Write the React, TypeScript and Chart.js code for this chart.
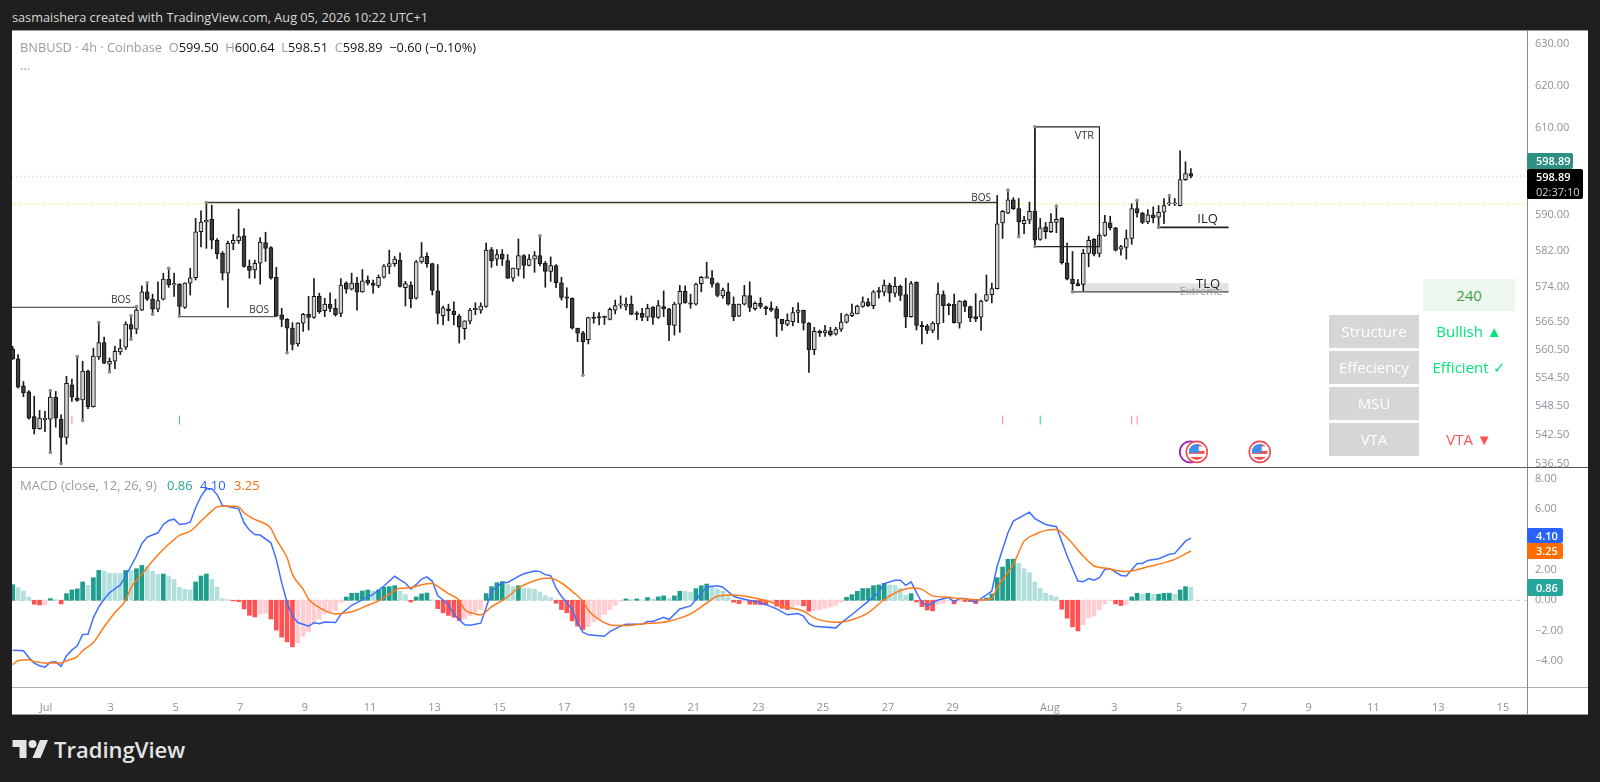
import React, { useEffect, useRef } from "react";
import { Chart, registerables } from "chart.js";

Chart.register(...registerables);

const opens = [
560.6,558.5,552.8,551.5,546.3,543.8,545.7,545.8,550.4,545.8,
542.0,553.0,550.2,549.8,555.9,548.4,558.9,562.0,557.4,558.0,
560.0,561.0,565.9,564.9,569.0,573.0,571.4,569.2,571.4,575.8,
574.5,574.7,569.6,574.9,576.1,586.3,588.5,589.1,584.4,581.5,
577.1,583.7,584.3,585.4,578.6,577.8,579.3,583.9,582.8,576.2,
568.0,567.0,565.1,561.7,566.2,568.1,567.4,572.0,568.9,570.3,
569.4,568.3,574.9,573.6,574.9,573.0,575.6,574.9,574.3,576.2,
578.6,579.2,580.0,573.9,574.5,571.6,579.6,580.8,579.2,573.2,
567.8,569.3,568.8,567.7,565.0,566.6,569.1,569.0,569.8,582.3,
580.2,581.3,579.9,576.0,578.0,581.0,578.8,580.2,581.0,579.3,
577.5,578.8,575.0,571.9,571.6,565.1,564.1,562.6,567.5,567.6,
567.7,567.0,569.0,570.1,569.8,570.3,568.4,568.3,567.5,569.6,
567.4,569.8,569.3,565.7,570.3,573.1,570.6,570.3,574.8,576.0,
576.0,574.8,572.1,573.0,570.3,567.7,570.3,572.2,569.3,570.5,
569.7,569.5,569.3,567.0,565.9,566.5,568.5,569.0,566.2,560.5,
564.4,564.1,564.5,563.8,564.9,566.4,567.8,568.2,569.8,570.8,
570.0,573.3,572.9,574.5,572.7,574.2,572.4,567.6,575.1,565.7,
565.6,564.6,566.0,572.4,570.3,570.3,566.2,571.0,569.8,567.6,
567.5,571.1,572.4,573.7,588.3,590.5,593.5,591.5,588.1,588.9,
590.9,584.6,587.4,586.3,588.4,589.4,579.4,575.8,574.8,574.6,
581.5,584.6,581.5,585.5,588.3,587.2,582.4,582.8,584.8,591.5,
590.5,588.5,590.1,589.6,590.7,592.6,592.6,592.2,598.1,599.5,
];
const highs = [
561.2,559.4,553.7,551.8,550.6,547.6,547.4,551.8,551.6,546.7,
554.8,554.2,559.0,558.0,556.1,560.8,566.3,563.2,558.7,561.2,
562.7,566.5,567.8,569.8,574.3,575.0,572.5,575.2,577.1,578.2,
577.1,574.8,575.0,578.2,589.3,591.0,592.9,592.3,584.8,581.9,
584.2,585.7,591.4,587.0,580.0,580.0,585.0,586.2,583.0,578.4,
569.4,567.2,566.3,566.3,568.3,572.0,575.9,572.7,571.6,572.8,
571.4,575.9,575.2,577.1,576.2,577.9,576.5,575.6,576.7,579.0,
582.2,580.8,581.6,575.3,575.2,579.9,583.9,581.6,579.3,579.0,
569.9,570.3,570.8,568.1,566.7,569.4,570.6,570.6,583.8,582.8,
582.3,582.3,581.2,578.2,584.7,581.2,581.2,581.9,585.4,579.7,
580.7,579.0,576.2,573.9,571.7,565.1,564.4,567.5,568.5,568.5,
567.7,569.5,571.2,572.1,571.7,572.1,568.7,569.4,570.3,569.8,
571.1,573.2,569.4,570.7,574.4,574.3,572.5,574.9,576.4,579.5,
577.7,575.0,573.8,574.9,571.9,570.3,574.4,575.2,570.8,571.7,
569.9,570.8,569.8,567.0,568.2,569.6,570.6,569.0,566.3,565.3,
564.7,565.7,565.3,565.3,568.3,568.2,570.3,570.1,571.9,571.6,
573.3,574.0,575.6,574.9,576.2,574.5,576.0,575.3,575.2,566.5,
565.9,566.5,574.9,573.2,570.5,572.5,571.1,571.2,569.9,572.6,
571.2,576.7,574.9,594.5,591.1,595.7,594.0,593.8,589.8,593.0,
610.3,589.3,588.4,590.4,592.1,589.5,583.8,581.9,575.7,582.4,
585.3,584.8,585.9,590.0,589.8,587.3,583.3,586.7,592.6,593.4,
590.7,591.3,591.9,592.2,593.8,594.5,593.8,604.7,602.2,600.64,
];
const lows = [
558.4,552.3,550.5,545.8,542.7,543.7,543.2,538.9,544.1,536.6,
540.6,549.5,549.5,545.5,548.0,548.3,558.4,557.5,555.7,556.4,
559.4,560.5,562.7,563.9,568.9,571.1,568.1,568.7,571.2,574.0,
572.0,567.7,569.4,572.3,575.6,582.9,582.6,582.5,580.3,575.6,
569.6,582.3,583.7,578.4,576.0,576.0,574.7,579.7,575.8,567.6,
565.4,559.8,560.4,561.2,564.4,564.7,567.2,568.3,567.6,568.7,
567.7,567.6,572.7,573.4,569.0,572.9,574.5,572.7,573.9,576.0,
577.0,578.6,574.0,569.9,569.5,571.4,579.3,578.4,572.3,566.0,
565.8,566.7,565.8,561.9,562.7,566.0,568.0,568.3,569.6,578.4,
578.8,578.8,575.9,575.3,576.5,576.0,578.7,577.3,578.7,574.0,
575.3,573.9,571.2,569.5,564.9,562.2,555.0,561.7,566.2,565.8,
565.9,566.9,568.2,569.4,569.0,568.0,566.9,566.7,566.7,565.9,
567.2,567.6,562.4,563.6,564.2,570.5,569.4,570.1,573.0,576.0,
574.0,571.9,571.6,570.1,566.7,567.6,570.1,568.7,569.0,569.4,
568.0,568.7,563.3,564.6,565.6,565.6,566.3,564.7,555.6,559.4,
563.3,563.3,563.4,563.6,564.4,566.2,567.6,568.2,569.6,569.8,
569.3,571.6,572.1,570.8,571.9,571.1,565.2,567.5,564.7,561.7,
563.9,564.1,562.7,566.3,568.0,566.2,565.1,568.7,566.5,566.5,
564.6,570.9,570.6,573.6,584.8,590.4,591.3,585.2,585.9,588.1,
583.0,584.4,584.8,586.1,586.1,579.1,575.6,573.0,574.3,573.2,
578.5,580.9,580.7,585.3,586.7,582.0,581.1,580.2,583.5,589.6,
588.1,588.1,588.3,587.3,588.1,592.2,592.2,592.1,597.9,598.51,
];
const closes = [
558.5,552.5,551.3,546.0,543.8,546.0,546.0,550.4,546.0,542.0,
553.3,550.4,549.7,555.9,548.4,559.1,562.0,557.6,558.0,560.1,
560.8,566.0,564.9,569.0,573.0,571.4,569.2,571.1,575.8,574.5,
574.8,569.8,574.9,576.1,586.3,588.5,588.9,584.4,581.4,577.1,
583.7,584.4,585.2,578.6,577.7,579.3,584.0,582.6,576.0,567.7,
567.0,565.1,561.6,566.2,568.1,567.4,572.0,568.7,570.3,569.4,
568.0,574.5,573.6,574.9,572.9,575.4,574.9,574.4,576.2,578.7,
579.2,580.2,574.2,574.8,571.5,579.6,580.7,579.2,573.3,568.3,
569.5,568.9,568.0,565.3,566.7,569.0,569.4,569.9,582.2,579.8,
581.2,580.2,576.0,578.2,581.0,578.8,580.2,581.0,579.2,577.5,
578.8,575.0,571.8,571.6,565.1,564.0,562.2,567.4,567.2,567.3,
567.4,569.2,570.0,570.4,570.3,568.1,568.1,567.4,569.4,567.4,
570.0,569.3,565.8,570.3,573.1,570.6,570.3,574.7,576.2,576.3,
574.7,572.2,573.4,570.3,567.6,570.3,572.2,569.6,570.5,569.8,
569.3,569.0,567.2,566.0,566.8,568.5,569.0,566.2,560.4,564.4,
564.1,564.6,563.7,564.9,566.4,568.0,568.4,569.9,570.8,570.0,
573.0,572.9,574.5,572.7,574.2,572.2,567.6,574.8,565.7,565.4,
564.6,566.2,572.5,570.0,570.0,566.3,571.0,569.8,567.3,567.1,
571.0,572.4,573.7,588.1,590.9,593.5,591.5,588.5,588.9,590.9,
584.4,587.2,586.3,588.5,589.1,579.4,575.8,574.8,574.3,581.5,
584.4,581.3,585.5,588.5,587.2,582.2,583.0,584.8,591.5,590.6,
588.4,590.1,589.4,590.7,592.2,592.8,592.8,598.1,599.5,598.89,
];

const histogram = [
1.03,.83,.61,.22,-.26,-.31,-.28,.11,.04,-.24,
.44,.68,.75,1.21,.99,1.49,1.97,1.91,1.78,1.77,
1.76,1.97,1.96,2.08,2.30,2.22,1.91,1.71,1.73,1.60,
1.38,.86,.72,.68,1.21,1.60,1.73,1.38,.86,.11,
.04,-.04,-.09,-.57,-.99,-1.10,-.92,-.86,-1.23,-1.97,
-2.43,-2.74,-3.07,-2.81,-2.37,-2.08,-1.47,-1.23,-.88,-.81,
-.66,-.13,.22,.46,.47,.61,.68,.61,.68,.86,
.90,.96,.59,.37,-.11,.22,.42,.48,.02,-.55,
-.83,-1.0,-1.12,-1.34,-1.23,-1.01,-.79,-.61,.44,.90,
1.16,1.23,1.03,.90,.96,.79,.77,.72,.55,.31,
.18,-.2,-.61,-.83,-1.36,-1.71,-1.93,-1.73,-1.43,-1.27,
-.94,-.61,-.33,-.07,.09,.04,.09,.02,.18,.09,
.22,.29,.13,.29,.59,.58,.53,.77,.96,1.07,
.94,.75,.59,.24,-.13,-.22,-.07,-.26,-.27,-.28,
-.29,-.11,-.39,-.53,-.61,-.44,-.31,-.37,-.72,-.68,
-.61,-.53,-.44,-.33,-.13,.2,.37,.59,.77,.78,
.96,1.01,1.12,1.01,.99,.79,.33,.44,-.11,-.42,
-.64,-.70,-.26,-.2,-.04,-.24,-.07,-.08,-.09,-.22,
-.07,.15,.42,1.49,2.19,2.70,2.71,2.43,2.08,1.82,
1.21,.79,.46,.33,.22,-.59,-1.18,-1.75,-2.02,-1.62,
-1.16,-1.03,-.64,-.24,-.02,-.24,-.35,-.28,.22,.46,
.39,.46,.39,.40,.46,.47,.39,.68,.90,.86,
];

const macdBars = [0,2,3,4,5,6,7,8,9,10,11,12,13,14,15,16,17,18,20,21,22,23,24,25,27,28,29,30,31,32,33,34,35,36,37,38,39,40,42,43,44,45,46,48,49,50,51,52,53,55,56,57,58,60,61,63,64,66,67,69,71,72,73,74,75,76,77,78,79,81,82,83,84,85,87,88,89,91,92,94,95,97,98,99,100,101,102,104,105,106,107,110,111,113,114,117,118,119,121,122,124,126,128,129,131,132,134,135,137,138,140,142,144,146,147,148,149,153,154,156,159,161,162,164,165,166,167,168,169,170,172,174,175,176,177,179,180,182,183,185,186,189,190,192,194,196,198,199,200,201,202,203,204,206,207,209,210,211,213,215,216,218,219];
const macdValues = [-3.29,-3.33,-3.77,-4.14,-4.32,-4.41,-4.08,-4.06,-4.36,-3.66,-3.29,-3.0,-2.26,-2.24,-1.14,-.44,.07,.5,1.01,1.6,2.26,2.92,3.73,4.17,4.45,5.0,5.26,5.35,5.0,5.04,5.15,6.1,6.86,7.35,7.35,6.97,6.25,6.18,6.03,5.11,4.63,4.34,4.30,3.79,2.70,1.16,-.15,-1.03,-1.47,-1.71,-1.49,-1.54,-1.43,-1.47,-.92,-.33,-.15,.22,.39,.94,1.58,1.34,1.14,.75,1.03,1.40,1.54,1.25,.31,-.29,-.94,-1.27,-1.62,-1.64,-1.51,-.50,.59,1.18,1.18,1.58,1.75,1.93,1.89,1.69,1.62,.81,.26,-.61,-1.49,-2.11,-2.28,-2.37,-2.06,-1.71,-1.58,-1.58,-1.40,-1.40,-1.12,-1.27,-.57,-.37,.44,.88,.96,.86,.26,.15,-.02,-.07,-.29,-.57,-.96,-.88,-1.05,-1.54,-1.71,-1.82,-1.49,-.94,-.07,.53,1.10,1.32,1.32,.99,1.21,.50,-.15,-.37,.02,.18,-.11,.11,.11,-.11,.11,.61,2.26,4.45,5.22,5.81,5.39,5.0,4.85,2.92,1.27,1.23,1.43,1.32,1.49,2.04,2.08,1.64,1.60,2.43,2.43,2.63,2.74,3.03,3.09,3.90,4.10];

const signalBars = [0,1,3,4,6,9,10,12,13,15,17,19,21,22,24,26,28,30,31,33,35,37,38,40,42,43,45,48,49,51,52,54,55,57,59,60,62,64,66,68,70,72,74,76,78,79,81,83,84,86,87,89,92,94,97,99,100,102,104,106,107,109,112,114,117,122,126,129,131,134,137,140,143,147,149,153,155,159,162,165,167,169,171,174,176,180,182,183,186,188,190,192,194,196,199,201,203,207,211,216,219];
const signalValues = [-4.25,-3.99,-3.93,-4.03,-4.14,-4.14,-3.99,-3.71,-3.33,-2.79,-1.75,-.81,0,.83,1.71,2.59,3.36,4.01,4.28,4.56,5.22,5.88,6.16,6.21,6.16,5.77,5.33,4.74,4.01,2.81,1.71,.72,.07,-.48,-.83,-.90,-.83,-.64,-.33,-.04,.39,.79,.83,1.03,1.10,.92,.44,0,-.61,-.90,-.96,-.44,.22,.81,1.29,1.45,1.45,1.14,.59,-.07,-.66,-1.27,-1.67,-1.67,-1.56,-1.38,-.90,-.18,.26,.35,.22,-.02,-.39,-.72,-1.16,-1.45,-1.38,-.83,.04,.64,.81,.72,.29,.20,.11,.02,.13,.83,2.37,3.90,4.34,4.61,4.67,4.12,2.92,2.26,2.13,1.89,2.21,2.70,3.25];

const priceTicks = [630, 620, 610, 590, 582, 574, 566.5, 560.5, 554.5, 548.5, 542.5, 536.5];
const macdTicks = [8, 6, 2, 0, -2, -4];
const timeTickBars = [6.2, 18.2, 30.3, 42.3, 54.3, 66.4, 78.4, 90.5, 102.5, 114.5, 126.6, 138.6, 150.6, 162.7, 174.7, 192.8, 204.8, 216.8, 228.9, 240.9, 252.9, 265.0, 277.0];
const timeTickLabels = ["Jul", "3", "5", "7", "9", "11", "13", "15", "17", "19", "21", "23", "25", "27", "29", "Aug", "3", "5", "7", "9", "11", "13", "15"];

const lastPrice = 598.89;
const yellowLevel = 592.6;
const bosLevelA = [[-0.13, 569.6], [23, 569.6]];
const bosLevelB = [[31, 567.6], [49, 567.6]];
const bosLevelC = [[36, 592.9], [183, 592.9]];
const vtrBox = [[190, 583.0], [190, 610.3], [202, 610.3], [202, 583.0], [190, 583.0]];
const ilqLevel = [[213, 587.3], [226, 587.3]];
const tlqLevel = [[197, 573.0], [226, 573.0]];
const extremeZone = { from: 199, to: 226, low: 573.0, high: 574.9 };

const pivotDots = [[7, 551.8], [7, 538.9], [9, 536.6], [12, 559.0], [13, 545.5], [16, 566.3], [18, 555.7], [22, 567.8], [22, 562.7], [23, 569.8], [25, 575.0], [26, 568.1], [29, 578.2], [31, 567.7], [36, 592.9], [51, 559.8], [98, 585.4], [106, 555.0], [185, 595.7], [187, 585.2], [190, 610.3], [190, 583.0], [194, 592.1], [197, 573.0], [209, 593.4], [213, 587.3], [215, 594.5]];
const redSignalBars = [11, 184, 208, 209];
const greenSignalBars = [31, 191];
const signalMarkPrice = 545.6;

const chartNotes = [
  { bar: 20.1, price: 571.1, text: "BOS", size: 10, color: "#333" },
  { bar: 45.8, price: 569.0, text: "BOS", size: 10, color: "#333" },
  { bar: 180, price: 593.9, text: "BOS", size: 10, color: "#333" },
  { bar: 199.2, price: 608.2, text: "VTR", size: 11, color: "#333" },
  { bar: 222.1, price: 589.2, text: "ILQ", size: 13, color: "#222" },
  { bar: 220.9, price: 573.0, text: "Extreme", size: 11, color: "#9a9ca3" },
  { bar: 222.2, price: 574.7, text: "TLQ", size: 13, color: "#222" },
];
const flagBars = [220.1, 231.8];
const flagPrice = 539.0;
const flagRingBar = 218.9;

const FONT = '"Open Sans", "Noto Sans", sans-serif';
const AXIS_GREY = "#8f929b";
const X_MIN = -0.13;
const X_MAX = 281.48;

const pts = (rows: number[][]) => rows.map(([x, y]) => ({ x, y }));
const lineSet = (rows: number[][], color: string, width: number, extra: object = {}) => ({
  type: "line", data: pts(rows), borderColor: color, borderWidth: width, pointRadius: 0, tension: 0, order: 1, ...extra,
});

const drawFlag = (ctx: CanvasRenderingContext2D, x: number, y: number) => {
  ctx.beginPath(); ctx.arc(x, y, 10.5, 0, Math.PI * 2);
  ctx.fillStyle = "#fff"; ctx.fill();
  ctx.strokeStyle = "#ef4b52"; ctx.lineWidth = 1.6; ctx.stroke();
  const r = 8;
  ctx.save();
  ctx.beginPath(); ctx.arc(x, y, r, 0, Math.PI * 2); ctx.clip();
  ctx.fillStyle = "#ef5350";
  ctx.fillRect(x - r, y - 1, 2 * r, 3);
  ctx.fillRect(x - r, y + 5, 2 * r, 3);
  ctx.fillRect(x, y - r, r, 2.5);
  ctx.fillStyle = "#3f8fe8"; ctx.fillRect(x - r, y - r, r + 2, r + 1);
  ctx.restore();
};

const pricePlugin = {
  id: "priceExtras",
  beforeDatasetsDraw(chart: any) {
    const { ctx, scales: { x, y } } = chart;
    ctx.save();
    ctx.fillStyle = "#e3e3e3";
    const top = y.getPixelForValue(extremeZone.high);
    ctx.fillRect(x.getPixelForValue(extremeZone.from), top, x.getPixelForValue(extremeZone.to) - x.getPixelForValue(extremeZone.from), y.getPixelForValue(extremeZone.low) - top);
    ctx.restore();
  },
  afterDatasetsDraw(chart: any) {
    const { ctx, scales: { x, y } } = chart;
    ctx.save();
    ctx.textAlign = "center";
    ctx.textBaseline = "middle";
    chartNotes.forEach((n) => {
      ctx.font = `${n.size}px ${FONT}`;
      ctx.fillStyle = n.color;
      ctx.fillText(n.text, x.getPixelForValue(n.bar), y.getPixelForValue(n.price));
    });
    const fy = y.getPixelForValue(flagPrice);
    ctx.beginPath();
    ctx.arc(x.getPixelForValue(flagRingBar), fy, 10.5, 0, Math.PI * 2);
    ctx.strokeStyle = "#9c27b0"; ctx.lineWidth = 1.8; ctx.stroke();
    flagBars.forEach((b) => drawFlag(ctx, x.getPixelForValue(b), fy));
    ctx.restore();
  },
};

const noPadding = (axis: any) => {
  axis.paddingTop = 0; axis.paddingBottom = 0; axis.paddingLeft = 0; axis.paddingRight = 0;
};
const fixedY = (values: number[], width: number) => ({
  afterBuildTicks: (axis: any) => { axis.ticks = values.map((value) => ({ value })); },
  afterFit: (axis: any) => { axis.width = width; noPadding(axis); },
});

function App() {
  const priceRef = useRef<HTMLCanvasElement>(null);
  const macdRef = useRef<HTMLCanvasElement>(null);

  useEffect(() => {
    const bars = closes.map((_, i) => i);
    const isUp = (i: number) => closes[i] >= opens[i];
    const priceChart = new Chart(priceRef.current as HTMLCanvasElement, {
      type: "bar",
      data: {
        datasets: [
          lineSet([[X_MIN, lastPrice], [X_MAX, lastPrice]], "#bcbcbc", 1, { borderDash: [1, 3], order: 5 }),
          lineSet([[X_MIN, yellowLevel], [X_MAX, yellowLevel]], "#f2e33a", 1, { borderDash: [1, 2], order: 5 }),
          { type: "bar", data: bars.map((i) => ({ x: i, y: [lows[i], highs[i]] })), backgroundColor: "#1a1a1a", barThickness: 1, grouped: false, order: 4 },
          {
            type: "bar",
            data: bars.map((i) => ({ x: i, y: [opens[i], closes[i]] })),
            backgroundColor: bars.map((i) => (isUp(i) ? "#cfd0d4" : "#3c3c3c")),
            borderColor: "#111",
            borderWidth: 1,
            borderSkipped: false,
            barThickness: 4,
            grouped: false,
            order: 3,
          },
          lineSet(bosLevelA, "#5a5a5a", 1.4),
          lineSet(bosLevelB, "#5a5a5a", 1.4),
          lineSet(bosLevelC, "#3a3a3a", 1.4),
          lineSet(vtrBox, "#222", 1.2),
          lineSet(ilqLevel, "#222", 1.6),
          lineSet(tlqLevel, "#444", 1.2),
          { type: "line", showLine: false, data: pts(pivotDots), pointRadius: 1.8, pointBackgroundColor: "#8a8a8a", pointBorderWidth: 0, order: 0 },
          { type: "line", showLine: false, data: redSignalBars.map((x) => ({ x, y: signalMarkPrice })), pointStyle: "line", rotation: 90, pointRadius: 4.5, pointBorderColor: "#ff8a8a", pointBorderWidth: 1, order: 0 },
          { type: "line", showLine: false, data: greenSignalBars.map((x) => ({ x, y: signalMarkPrice })), pointStyle: "line", rotation: 90, pointRadius: 4.5, pointBorderColor: "#22dd88", pointBorderWidth: 1, order: 0 },
        ] as any,
      },
      options: {
        animation: false,
        responsive: false,
        devicePixelRatio: 1,
        layout: { padding: 0, autoPadding: false },
        plugins: { legend: { display: false }, tooltip: { enabled: false } },
        scales: {
          x: { type: "linear", display: false, min: X_MIN, max: X_MAX, offset: false, bounds: "data", grid: { display: false } },
          y: {
            type: "logarithmic", position: "right", min: 535.9, max: 633.3, bounds: "data",
            grid: { display: false },
            border: { display: true, color: "#8a8a8a" },
            ticks: { autoSkip: false, padding: 0, color: AXIS_GREY, font: { family: FONT, size: 11 }, callback: (v: any) => Number(v).toFixed(2) },
            ...fixedY(priceTicks, 61),
          },
        },
      } as any,
      plugins: [pricePlugin],
    });

    const macdChart = new Chart(macdRef.current as HTMLCanvasElement, {
      type: "bar",
      data: {
        datasets: [
          lineSet([[X_MIN, 0], [X_MAX, 0]], "#c4c4c4", 1, { borderDash: [4, 4], order: 5 }),
          {
            type: "bar",
            data: bars.map((i) => ({ x: i, y: histogram[i] })),
            backgroundColor: bars.map((i) => {
              const v = histogram[i];
              const p = i > 0 ? histogram[i - 1] : 0;
              if (v >= 0) return v > p ? "#1f9d8c" : "#b2dfdb";
              return v < p ? "#ff5252" : "#ffcdd2";
            }),
            barThickness: 4,
            grouped: false,
            order: 4,
          },
          lineSet(macdBars.map((b, i) => [b, macdValues[i]]), "#3f6fff", 1.5, { order: 2 }),
          lineSet(signalBars.map((b, i) => [b, signalValues[i]]), "#ff7a1a", 1.5, { order: 1, cubicInterpolationMode: "monotone" }),
        ] as any,
      },
      options: {
        animation: false,
        responsive: false,
        devicePixelRatio: 1,
        layout: { padding: 0, autoPadding: false },
        plugins: { legend: { display: false }, tooltip: { enabled: false } },
        scales: {
          x: {
            type: "linear", min: X_MIN, max: X_MAX, offset: false, bounds: "data",
            grid: { display: false },
            border: { display: false },
            afterBuildTicks: (axis: any) => { axis.ticks = timeTickBars.map((value) => ({ value })); },
            afterFit: (axis: any) => { axis.height = 28; noPadding(axis); },
            ticks: {
              autoSkip: false, maxRotation: 0, padding: 6, color: AXIS_GREY, font: { family: FONT, size: 11 },
              callback: (v: any) => timeTickLabels[timeTickBars.indexOf(v)],
            },
          },
          y: {
            type: "linear", position: "right", min: -5.72, max: 8.79, bounds: "data",
            grid: { display: false },
            border: { display: true, color: "#8a8a8a" },
            ticks: {
              autoSkip: false, padding: 0, color: AXIS_GREY, font: { family: FONT, size: 11 },
              callback: (v: any) => Number(v).toFixed(2).replace("-", "\u2212"),
            },
            ...fixedY(macdTicks, 61),
          },
        },
      } as any,
    });

    return () => { priceChart.destroy(); macdChart.destroy(); };
  }, []);

  const abs = (left: number, top: number, width: number, height: number, background: string): React.CSSProperties => ({
    position: "absolute", left, top, width, height, background,
  });
  const tag = (left: number, top: number, width: number, height: number, bg: string, text: string) => (
    <div style={{ ...abs(left, top, width, height, bg), color: "#fff", fontSize: 11, lineHeight: `${height}px`, paddingLeft: 9, boxSizing: "border-box", borderRadius: 2, fontWeight: 600 }}>{text}</div>
  );
  const cell = (top: number, text: string) => (
    <div style={{ ...abs(1329, top, 90, 33, "#d5d6d8"), color: "#fff", fontSize: 15, lineHeight: "33px", textAlign: "center" }}>{text}</div>
  );
  const status = (top: number, color: string, text: string) => (
    <div style={{ ...abs(1423, top, 92, 33, "transparent"), color, fontSize: 15, lineHeight: "33px", textAlign: "center", whiteSpace: "nowrap" }}>{text}</div>
  );
  const grey = { color: "#9a9ca3" };
  const pair = (k: string, v: string) => (<><span style={grey}>{k}</span>{v}&nbsp;&nbsp;</>);

  return (
    <div style={{ position: "fixed", inset: 0, width: 1600, height: 782, background: "#1f1f1f", overflow: "hidden", fontFamily: FONT }}>
      <div style={{ position: "absolute", left: 12, top: 9, color: "#d8d8d8", fontSize: 12.7, lineHeight: "17px", whiteSpace: "nowrap" }}>
        sasmaishera created with TradingView.com, Aug 05, 2026 10:22 UTC+1
      </div>
      <div style={{ ...abs(12, 30, 1576, 685, "#fff") }} />
      <canvas ref={priceRef} width={1576} height={437} style={{ position: "absolute", left: 12, top: 30, width: 1576, height: 437, display: "block" }} />
      <canvas ref={macdRef} width={1576} height={248} style={{ position: "absolute", left: 12, top: 467, width: 1576, height: 248, display: "block" }} />
      <div style={abs(12, 467, 1576, 1, "#55585f")} />
      <div style={abs(12, 687, 1576, 1, "#b0b0b0")} />
      <div style={abs(1527, 687, 1, 28, "#8a8a8a")} />
      <div style={abs(12, 30, 1576, 1, "#999")} />
      <div style={abs(12, 714, 1576, 1, "#999")} />

      <div style={{ position: "absolute", left: 20, top: 39, fontSize: 12.8, lineHeight: "17px", color: "#131722", whiteSpace: "nowrap" }}>
        <span style={grey}>BNBUSD · 4h · Coinbase</span>&nbsp;&nbsp;
        {pair("O", "599.50")}{pair("H", "600.64")}{pair("L", "598.51")}{pair("C", "598.89")}−0.60 (−0.10%)
      </div>
      <div style={{ position: "absolute", left: 20, top: 57, fontSize: 13, lineHeight: "17px", color: "#9a9ca3" }}>...</div>
      <div style={{ position: "absolute", left: 20, top: 477, fontSize: 13, lineHeight: "17px", whiteSpace: "nowrap", color: "#9a9ca3" }}>
        MACD (close, 12, 26, 9)
        <span style={{ position: "absolute", left: 147, color: "#26a69a" }}>0.86</span>
        <span style={{ position: "absolute", left: 180, color: "#2962ff" }}>4.10</span>
        <span style={{ position: "absolute", left: 214, color: "#ff6d00" }}>3.25</span>
      </div>

      {tag(1527, 153, 46, 16, "#2f8f83", "598.89")}
      <div style={{ ...abs(1527, 169, 56, 30, "#000"), color: "#fff", fontSize: 11, lineHeight: "15px", paddingLeft: 9, boxSizing: "border-box", borderRadius: 2 }}>
        <div style={{ fontWeight: 600 }}>598.89</div><div style={{ color: "#cfcfcf" }}>02:37:10</div>
      </div>
      {tag(1527, 528, 36, 15, "#2962ff", "4.10")}
      {tag(1527, 543, 36, 16, "#ff6d00", "3.25")}
      {tag(1527, 579, 36, 17, "#26a69a", "0.86")}

      <div style={{ ...abs(1423, 279, 92, 32, "#edf7ee"), color: "#43a047", fontSize: 15, lineHeight: "32px", textAlign: "center" }}>240</div>
      {cell(315, "Structure")}
      {cell(351, "Effeciency")}
      {cell(387, "MSU")}
      {cell(423, "VTA")}
      {status(315, "#00e676", "Bullish ▲")}
      {status(351, "#00e676", "Efficient ✓")}
      {status(423, "#ff5252", "VTA ▼")}

      <svg style={{ position: "absolute", left: 12, top: 736 }} width="37" height="24" viewBox="0 0 36 24" fill="#e4e4e4">
        <path d="M14 22H7V11H0V4h14v18zM28 22h-8l7.5-18h8L28 22z" />
        <circle cx="20" cy="8" r="4" />
      </svg>
      <div style={{ position: "absolute", left: 54, top: 734, color: "#e4e4e4", fontSize: 22, lineHeight: "30px", fontWeight: 600, whiteSpace: "nowrap" }}>TradingView</div>
    </div>
  );
}

export default App;
